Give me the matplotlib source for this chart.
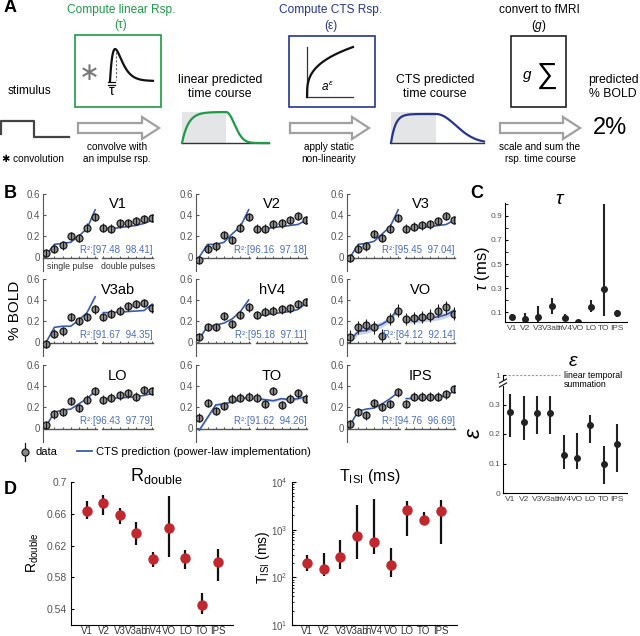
import numpy as np
import matplotlib
matplotlib.use('Agg')
from matplotlib import pyplot as plt
from matplotlib.patches import Rectangle, FancyArrow

plt.rcParams['font.family'] = ['Liberation Sans', 'DejaVu Sans']
plt.rcParams['mathtext.fontset'] = 'custom'
plt.rcParams['mathtext.rm'] = 'Liberation Sans'
plt.rcParams['mathtext.it'] = 'Liberation Sans:italic'
plt.rcParams['mathtext.bf'] = 'Liberation Sans:bold'

W, H = 640, 636

# -----------------------
# data: panel B (7 single pulse + 7 double pulse conditions per area)
# -----------------------
areas = ['V1', 'V2', 'V3', 'V3ab', 'hV4', 'VO', 'LO', 'TO', 'IPS']

data_single = {
    'V1':   [0.04, 0.08, 0.11, 0.20, 0.18, 0.28, 0.38],
    'V2':   [-0.03, 0.08, 0.10, 0.21, 0.16, 0.28, 0.38],
    'V3':   [-0.01, 0.08, 0.10, 0.22, 0.18, 0.27, 0.37],
    'V3ab': [-0.02, 0.08, 0.10, 0.24, 0.20, 0.24, 0.31],
    'hV4':  [0.05, 0.14, 0.14, 0.25, 0.17, 0.26, 0.33],
    'VO':   [0.05, 0.14, 0.16, 0.14, 0.06, 0.22, 0.30],
    'LO':   [0.03, 0.13, 0.15, 0.26, 0.19, 0.27, 0.35],
    'TO':   [0.10, 0.24, 0.16, 0.21, 0.28, 0.29, 0.30],
    'IPS':  [0.04, 0.15, 0.12, 0.24, 0.20, 0.23, 0.34],
}
data_double = {
    'V1':   [0.28, 0.27, 0.32, 0.32, 0.34, 0.36, 0.37],
    'V2':   [0.27, 0.27, 0.31, 0.32, 0.35, 0.39, 0.35],
    'V3':   [0.27, 0.29, 0.30, 0.31, 0.34, 0.39, 0.35],
    'V3ab': [0.24, 0.27, 0.30, 0.34, 0.36, 0.37, 0.32],
    'hV4':  [0.26, 0.29, 0.30, 0.31, 0.32, 0.36, 0.38],
    'VO':   [0.22, 0.23, 0.24, 0.25, 0.30, 0.33, 0.27],
    'LO':   [0.27, 0.29, 0.31, 0.33, 0.30, 0.36, 0.35],
    'TO':   [0.29, 0.23, 0.35, 0.22, 0.28, 0.33, 0.28],
    'IPS':  [0.23, 0.30, 0.30, 0.30, 0.30, 0.32, 0.37],
}
pred_single = {
    'V1':   [0.02, 0.12, 0.13, 0.14, 0.20, 0.27, 0.45],
    'V2':   [0.00, 0.12, 0.12, 0.14, 0.22, 0.29, 0.45],
    'V3':   [0.00, 0.12, 0.13, 0.15, 0.22, 0.29, 0.45],
    'V3ab': [0.00, 0.14, 0.15, 0.15, 0.21, 0.28, 0.43],
    'hV4':  [0.03, 0.15, 0.16, 0.18, 0.22, 0.29, 0.40],
    'VO':   [0.02, 0.10, 0.11, 0.14, 0.17, 0.22, 0.32],
    'LO':   [0.02, 0.15, 0.17, 0.18, 0.23, 0.28, 0.35],
    'TO':   [-0.02, 0.10, 0.22, 0.23, 0.25, 0.27, 0.30],
    'IPS':  [0.03, 0.16, 0.18, 0.19, 0.23, 0.28, 0.34],
}
pred_double = {
    'V1':   [0.27, 0.27, 0.28, 0.29, 0.30, 0.32, 0.35],
    'V2':   [0.26, 0.27, 0.28, 0.29, 0.30, 0.31, 0.35],
    'V3':   [0.27, 0.27, 0.28, 0.29, 0.30, 0.31, 0.35],
    'V3ab': [0.28, 0.28, 0.285, 0.29, 0.295, 0.30, 0.36],
    'hV4':  [0.25, 0.26, 0.27, 0.28, 0.29, 0.31, 0.37],
    'VO':   [0.21, 0.21, 0.22, 0.23, 0.24, 0.26, 0.30],
    'LO':   [0.28, 0.28, 0.29, 0.29, 0.30, 0.31, 0.33],
    'TO':   [0.28, 0.27, 0.26, 0.28, 0.27, 0.28, 0.30],
    'IPS':  [0.28, 0.28, 0.28, 0.29, 0.29, 0.31, 0.35],
}
data_err = {'V1': 0.04, 'V2': 0.04, 'V3': 0.04, 'V3ab': 0.04, 'hV4': 0.04,
            'VO': 0.06, 'LO': 0.04, 'TO': 0.04, 'IPS': 0.04}
pred_band = {'V1': 0, 'V2': 0, 'V3': 0, 'V3ab': 0, 'hV4': 0,
             'VO': 0.03, 'LO': 0, 'TO': 0.012, 'IPS': 0}
r2 = {
    'V1': ('97.48', '98.41'), 'V2': ('96.16', '97.18'), 'V3': ('95.45', '97.04'),
    'V3ab': ('91.67', '94.35'), 'hV4': ('95.18', '97.11'), 'VO': ('84.12', '92.14'),
    'LO': ('96.43', '97.79'), 'TO': ('91.62', '94.26'), 'IPS': ('94.76', '96.69'),
}

# -----------------------
# data: panel C
# -----------------------
tau = [0.06, 0.04, 0.06, 0.15, 0.05, 0.02, 0.14, 0.29, 0.09]
tau_lo = [0.04, 0.02, 0.02, 0.08, 0.03, 0.015, 0.10, 0.07, 0.06]
tau_hi = [0.08, 0.09, 0.15, 0.22, 0.08, 0.025, 0.20, 1.0, 0.12]

eps = [0.275, 0.24, 0.27, 0.27, 0.13, 0.12, 0.23, 0.10, 0.165]
eps_lo = [0.19, 0.18, 0.20, 0.20, 0.08, 0.08, 0.17, 0.03, 0.07]
eps_hi = [0.335, 0.33, 0.33, 0.33, 0.195, 0.205, 0.265, 0.16, 0.235]

# -----------------------
# data: panel D
# -----------------------
rdouble = [0.663, 0.673, 0.658, 0.636, 0.603, 0.642, 0.604, 0.545, 0.599]
rdouble_lo = [0.654, 0.658, 0.647, 0.621, 0.593, 0.606, 0.590, 0.534, 0.576]
rdouble_hi = [0.676, 0.684, 0.667, 0.650, 0.612, 0.682, 0.615, 0.560, 0.616]

tisi = [200, 148, 269, 724, 550, 182, 2630, 1620, 2470]
tisi_lo = [138, 107, 151, 245, 302, 102, 741, 1480, 500]
tisi_hi = [295, 319, 613, 3330, 4340, 407, 4080, 2400, 4270]

roi_labels = ['V1', 'V2', 'V3', 'V3ab', 'hV4', 'VO', 'LO', 'TO', 'IPS']

BLUE = '#3a5ca8'
GREEN = '#1e9a48'
DBLUE = '#25368c'
RED = '#c1272d'

fig = plt.figure(figsize=(6.4, 6.36), dpi=100)


def px_axes(left, top, right, bottom):
    return fig.add_axes([left / W, 1 - bottom / H, (right - left) / W, (bottom - top) / H])


ov = fig.add_axes([0, 0, 1, 1])
ov.set_xlim(0, W)
ov.set_ylim(H, 0)
ov.axis('off')
ov.set_zorder(5)

# -----------------------
# panel A (schematic)
# -----------------------
ov.text(10, 8, 'A', fontsize=13, fontweight='bold', ha='center', va='center')
ov.text(121, 10, 'Compute linear Rsp.', color=GREEN, fontsize=8.6, ha='center', va='center')
ov.text(121, 25, '(τ)', color=GREEN, fontsize=8.6, ha='center', va='center')
ov.text(331, 10, 'Compute CTS Rsp.', color=DBLUE, fontsize=8.6, ha='center', va='center')
ov.text(331, 26, '(ε)', color=DBLUE, fontsize=8.6, ha='center', va='center')
ov.text(539, 10, 'convert to fMRI', fontsize=8.6, ha='center', va='center')
ov.text(539, 26, '($g$)', fontsize=8.6, ha='center', va='center')

ov.add_patch(Rectangle((75, 35), 86, 72, fill=False, ec=GREEN, lw=1.2))
ov.add_patch(Rectangle((289, 36), 86, 71, fill=False, ec=DBLUE, lw=1.2))
ov.add_patch(Rectangle((511, 36), 55, 71, fill=False, ec='#222222', lw=1.2))

# impulse response in the green box
t = np.linspace(0, 1, 200)
imp = (t / 0.12) * np.exp(1 - t / 0.12)
ov.plot(110 + 43 * t, 81 - 32 * imp, color='#111111', lw=1.6)
ov.plot([116, 116], [52, 80], color='#666666', lw=0.8, ls=(0, (2, 1.5)))
ov.plot([108, 115], [82, 82], color='#111111', lw=0.9)
ov.plot([108, 115], [84.5, 84.5], color='#111111', lw=0.9)
ov.text(112, 91, 'τ', fontsize=10, ha='center', va='center')
ov.text(89, 73, '∗', fontsize=18, color='#777777', ha='center', va='center')

# power law in the blue box
ov.plot([307, 307], [47, 97], color='#333333', lw=0.9)
ov.plot([307, 353], [97, 97], color='#333333', lw=0.9)
s = np.linspace(0, 1, 200)
ov.plot(307 + 46 * s, 97 - 50 * s ** 0.33, color='#111111', lw=1.6)
ov.text(327, 87, r'$a^{\epsilon}$', fontsize=8.5, ha='center', va='center')

ov.text(527, 76, r'$g$', fontsize=11, ha='center', va='center')
ov.text(547, 75, '∑', fontsize=21, ha='center', va='center')

ov.text(29, 91, 'stimulus', fontsize=8.6, ha='center', va='center')
ov.text(220, 87, 'linear predicted\ntime course', fontsize=8.8, ha='center', va='center', linespacing=1.3)
ov.text(435, 87, 'CTS predicted\ntime course', fontsize=8.8, ha='center', va='center', linespacing=1.3)
ov.text(613, 87, 'predicted\n% BOLD', fontsize=8.8, ha='center', va='center', linespacing=1.3)
ov.text(610, 128, '2%', fontsize=17, ha='center', va='center')

# stimulus
ov.plot([1, 1, 34, 34, 69], [134, 121, 121, 137, 137], color='#444444', lw=1.6)

# hollow arrows
for x0, x1 in [(78, 159), (290, 369), (500, 580)]:
    ov.add_patch(FancyArrow(x0, 128, x1 - x0, 0, width=10, head_width=22, head_length=17,
                            length_includes_head=True, fc='white', ec='#a0a0a0', lw=1.6))

ov.text(117, 153, 'convolve with\nan impulse rsp.', fontsize=7.2, ha='center', va='center', linespacing=1.35)
ov.text(329, 153, 'apply static\nnon-linearity', fontsize=7.2, ha='center', va='center', linespacing=1.35)
ov.text(540, 153, 'scale and sum the\nrsp. time course', fontsize=7.2, ha='center', va='center', linespacing=1.35)
ov.text(2, 159, '✱ convolution', fontsize=7.2, ha='left', va='center')

# linear predicted time course
ov.add_patch(Rectangle((182, 112), 44, 31, fc='#e4e5e6', ec='none'))
ov.plot([182, 269], [143, 143], color='#333333', lw=1)
xa = np.linspace(182, 226, 100)
va = 1 - np.exp(-(xa - 182) / 6.5)
xb = np.linspace(226, 269, 100)
vb = va[-1] * np.exp(-((xb - 226) / 12) ** 2)
ov.plot(np.r_[xa, xb], 143 - 31 * np.r_[va, vb], color=GREEN, lw=1.6)

# CTS predicted time course
ov.add_patch(Rectangle((391, 112), 45, 31, fc='#e4e5e6', ec='none'))
ov.plot([391, 484], [143, 143], color='#333333', lw=1)
xa = np.linspace(391, 436, 100)
va = 1 - np.exp(-(xa - 391) / 4.5)
xb = np.linspace(436, 484, 100)
vb = va[-1] * np.exp(-((xb - 436) / 28) ** 2)
ov.plot(np.r_[xa, xb], 143 - 29 * np.r_[va, vb], color=DBLUE, lw=1.6)

# -----------------------
# panel B
# -----------------------
ov.text(10, 193, 'B', fontsize=13, fontweight='bold', ha='center', va='center')
ov.text(15, 310, '% BOLD', fontsize=11, rotation=90, ha='center', va='center')

col_lr = [(43, 153), (196, 307), (347, 455)]
row_top = [194, 279, 365]
xs = np.arange(7)
xd = np.arange(7, 14)

for i, name in enumerate(areas):
    r, c = divmod(i, 3)
    top = row_top[r]
    ax = px_axes(col_lr[c][0], top, col_lr[c][1], top + 0.73 * 105)
    ax.set_xlim(-0.4, 13.1)
    ax.set_ylim(-0.13, 0.6)
    for sp in ['top', 'right', 'bottom']:
        ax.spines[sp].set_visible(False)
    ax.spines['left'].set_color('#555555')
    ax.set_xticks([])
    ax.set_yticks([0, 0.2, 0.4, 0.6])
    ax.set_yticklabels(['0', '0.2', '0.4', '0.6'])
    ax.tick_params(axis='y', direction='in', length=2, labelsize=7, labelcolor='#555555',
                   color='#555555', pad=2)
    ax.patch.set_visible(False)

    # broken x axis
    ax.plot([-0.4, 6.2], [-0.012, -0.012], color='#555555', lw=1, clip_on=False)
    ax.plot([6.9, 13.1], [-0.012, -0.012], color='#555555', lw=1, clip_on=False)
    ax.vlines(np.r_[xs[1:], xd], -0.012, 0.012, color='#555555', lw=0.8)

    ps = np.array(pred_single[name])
    pdb = np.array(pred_double[name])
    if pred_band[name] > 0:
        b = pred_band[name]
        ax.fill_between(xs, ps - b, ps + b, color='#a9b8e0', alpha=0.6, lw=0)
        ax.fill_between(xd, pdb - b, pdb + b, color='#a9b8e0', alpha=0.6, lw=0)
    ax.plot(xs, ps, color=BLUE, lw=1.2, zorder=2)
    ax.plot(xd, pdb, color=BLUE, lw=1.2, zorder=2)

    ys = np.r_[data_single[name], data_double[name]]
    xx = np.r_[xs, xd]
    e = data_err[name]
    ax.plot(xx, ys, 'o', ms=5, mfc='#8a8a8a', mec='#1a1a1a', mew=0.9, zorder=3)
    ax.vlines(xx, ys - e, ys + e, color='#1a1a1a', lw=0.8, zorder=4)

    ax.text(8.8, 0.5, name, fontsize=10.5, ha='center', va='center')
    ax.text(13.1, 0.07, 'R²:[%s  %s]' % r2[name], fontsize=7, color='#4a6fb5',
            ha='right', va='center')
    if name == 'V1':
        ax.text(2.9, -0.09, 'single pulse', fontsize=6.3, ha='center', va='center', color='#333333')
        ax.text(10.1, -0.09, 'double pulses', fontsize=6.3, ha='center', va='center', color='#333333')

# legend row
ov.plot([25, 25], [443, 461], color='#1a1a1a', lw=0.9)
ov.plot(25, 452, 'o', ms=5, mfc='#8a8a8a', mec='#1a1a1a', mew=0.9)
ov.text(35, 452, 'data', fontsize=8, va='center')
ov.plot([77, 92], [451, 451], color=BLUE, lw=1.3)
ov.text(96, 452, 'CTS prediction (power-law implementation)', fontsize=8, va='center')

# -----------------------
# panel C
# -----------------------
ov.text(477, 193, 'C', fontsize=13, fontweight='bold', ha='center', va='center')
xr = np.arange(1, 10)

axt = px_axes(505, 203, 627, 322)
axt.set_xlim(0.45, 9.75)
axt.set_ylim(0.017, 1.008)
axt.errorbar(xr, tau, yerr=[np.subtract(tau, tau_lo), np.subtract(tau_hi, tau)], fmt='o',
             color='#222222', ms=4, elinewidth=1.5, capsize=0)
axt.set_yticks([0.1, 0.3, 0.5, 0.7, 0.9])
axt.set_yticks(np.arange(0.2, 1.01, 0.2), minor=True)
axt.set_xticks(xr)
axt.set_xticklabels(roi_labels)
axt.tick_params(axis='y', which='both', direction='in', length=2, labelsize=6, labelcolor='#555555', pad=2)
axt.tick_params(axis='x', direction='in', length=0, labelsize=6, labelcolor='#444444', pad=2)
for sp in ['top', 'right']:
    axt.spines[sp].set_visible(False)
ov.text(560, 200, r'$\tau$', fontsize=14, ha='center', va='center')
ov.text(482, 268, r'$\tau$ (ms)', fontsize=12, rotation=90, ha='center', va='center')

axe = px_axes(503, 375, 627, 493)
axe.set_xlim(0.45, 9.75)
axe.set_ylim(0, 0.40)
axe.errorbar(xr, eps, yerr=[np.subtract(eps, eps_lo), np.subtract(eps_hi, eps)], fmt='o',
             color='#222222', ms=4, elinewidth=1.5, capsize=0)
axe.set_yticks([0, 0.1, 0.2, 0.3, 0.4])
axe.set_yticklabels(['0', '0.1', '0.2', '0.3', '1'])
axe.set_xticks(xr)
axe.set_xticklabels(roi_labels)
axe.tick_params(axis='y', direction='in', length=2, labelsize=6, labelcolor='#555555', pad=2)
axe.tick_params(axis='x', direction='in', length=0, labelsize=6, labelcolor='#444444', pad=2)
for sp in ['top', 'right']:
    axe.spines[sp].set_visible(False)
axe.plot([0.83, 4.73], [0.40, 0.40], color='#999999', lw=0.8, ls=(0, (2, 1.5)), clip_on=False)
ov.text(564, 371, 'linear temporal\nsummation', fontsize=6.3, va='top', ha='left', linespacing=1.0)
ov.add_patch(Rectangle((499, 380.5), 8, 5, fc='white', ec='none'))
ov.plot([499.5, 506.5], [383, 379], color='#222222', lw=0.9)
ov.plot([499.5, 506.5], [387, 383], color='#222222', lw=0.9)
ov.text(573, 362, r'$\epsilon$', fontsize=14, ha='center', va='center')
ov.text(475, 433, r'$\epsilon$', fontsize=16, rotation=90, ha='center', va='center')

# -----------------------
# panel D
# -----------------------
ov.text(10, 489, 'D', fontsize=13, fontweight='bold', ha='center', va='center')

axr = px_axes(71, 482, 233, 625)
axr.set_xlim(0.024, 9.9)
axr.set_ylim(0.52, 0.70)
axr.errorbar(xr, rdouble, yerr=[np.subtract(rdouble, rdouble_lo), np.subtract(rdouble_hi, rdouble)],
             fmt='o', mfc=RED, mec=RED, ms=6.5, ecolor='#111111', elinewidth=1.6, capsize=0)
axr.set_yticks([0.54, 0.58, 0.62, 0.66, 0.70])
axr.set_yticklabels(['0.54', '0.58', '0.62', '0.66', '0.7'])
axr.set_xticks(xr)
axr.set_xticklabels(roi_labels)
axr.tick_params(axis='y', direction='in', length=2, labelsize=7.5, labelcolor='#555555', pad=3)
axr.tick_params(axis='x', direction='in', length=0, labelsize=7, labelcolor='#333333', pad=1)
for sp in ['top', 'right']:
    axr.spines[sp].set_visible(False)
ov.text(156, 476, r'R$_{\rm double}$', fontsize=13, ha='center', va='center')
ov.text(33, 553, r'R$_{\rm double}$', fontsize=10, rotation=90, ha='center', va='center')

axi = px_axes(292, 482, 457, 625)
axi.set_yscale('log')
axi.set_xlim(0.1, 9.98)
axi.set_ylim(10, 1e4)
axi.errorbar(xr, tisi, yerr=[np.subtract(tisi, tisi_lo), np.subtract(tisi_hi, tisi)],
             fmt='o', mfc=RED, mec=RED, ms=6.5, ecolor='#111111', elinewidth=1.6, capsize=0)
axi.set_xticks(xr)
axi.set_xticklabels(roi_labels)
axi.tick_params(axis='y', which='major', direction='in', length=3, labelsize=7, labelcolor='#555555', pad=3)
axi.tick_params(axis='y', which='minor', direction='in', length=1.5)
axi.tick_params(axis='x', direction='in', length=0, labelsize=7, labelcolor='#333333', pad=1)
for sp in ['top', 'right']:
    axi.spines[sp].set_visible(False)
ov.text(370, 476, r'T$_{\rm ISI}$ (ms)', fontsize=11.5, ha='center', va='center')
ov.text(263, 557, r'T$_{\rm ISI}$ (ms)', fontsize=10, rotation=90, ha='center', va='center')

fig.savefig('out.png', dpi=100)
